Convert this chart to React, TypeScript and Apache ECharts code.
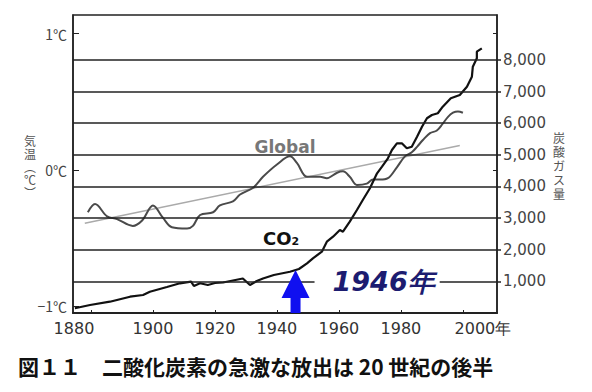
import React, { useEffect, useRef } from 'react';
import * as echarts from 'echarts';

// Global temperature anomaly curve (℃)
const GLOBAL_YEARS = [1879.0, 1881.3, 1885.2, 1888.4, 1893.5, 1896.5, 1900.0, 1903.2, 1906.1, 1911.0, 1912.9, 1915.2, 1919.4, 1921.6, 1925.8, 1928.1, 1932.3, 1935.5, 1940.0, 1944.2, 1946.5, 1949.7, 1953.9, 1956.1, 1959.4, 1961.3, 1963.5, 1965.8, 1969.0, 1971.0, 1973.2, 1975.8, 1978.7, 1981.3, 1983.5, 1985.2, 1987.1, 1989.4, 1991.6, 1993.5, 1995.2, 1996.8, 1998.4, 2000.0];
const GLOBAL_TEMPS = [-0.31, -0.25, -0.34, -0.36, -0.41, -0.37, -0.26, -0.35, -0.42, -0.43, -0.41, -0.33, -0.31, -0.26, -0.23, -0.18, -0.13, -0.05, 0.04, 0.10, 0.05, -0.05, -0.05, -0.06, -0.02, -0.01, -0.05, -0.11, -0.10, -0.07, -0.07, -0.06, 0.02, 0.10, 0.13, 0.17, 0.22, 0.27, 0.29, 0.34, 0.39, 0.42, 0.43, 0.42];

// Straight trend line of the temperature
const TREND_YEARS = [1878, 1999];
const TREND_TEMPS = [-0.39, 0.18];

// CO2 emission curve (炭酸ガス量)
const CO2_YEARS = [1874.8, 1879.7, 1886.1, 1892.6, 1896.8, 1899.0, 1904.5, 1908.7, 1912.3, 1913.2, 1915.2, 1917.7, 1920.0, 1922.6, 1925.8, 1929.0, 1931.3, 1933.5, 1935.5, 1939.0, 1944.2, 1947.1, 1949.7, 1951.6, 1954.5, 1956.1, 1958.1, 1960.3, 1961.3, 1963.5, 1965.8, 1967.7, 1970.0, 1972.3, 1973.9, 1975.8, 1977.1, 1978.7, 1980.3, 1981.9, 1983.5, 1985.2, 1986.8, 1988.4, 1990.0, 1991.9, 1993.5, 1996.1, 1999.0, 2001.3, 2002.9, 2003.2, 2004.5, 2004.5, 2006.1];
const CO2_AMOUNTS = [149, 253, 357, 515, 569, 673, 822, 939, 989, 853, 939, 885, 948, 964, 1027, 1090, 885, 1011, 1090, 1201, 1305, 1391, 1571, 1729, 1937, 2253, 2412, 2623, 2570, 2886, 3255, 3571, 3941, 4415, 4624, 4889, 5152, 5363, 5363, 5205, 5256, 5572, 5888, 6154, 6258, 6312, 6520, 6786, 6890, 7152, 7468, 7784, 8050, 8259, 8366];

const YEAR_TICKS = [1880, 1900, 1920, 1940, 1960, 1980, 2000];
const TEMP_TICKS = [-1, 0, 1];
const CO2_TICKS = [1000, 2000, 3000, 4000, 5000, 6000, 7000, 8000];
const ARROW_YEAR = 1946;
const ARROW_LABEL = '1946年';
const TITLE = '図１１　二酸化炭素の急激な放出は 20 世紀の後半';
const LEFT_NAME = ['気', '温', '︵', '℃', '︶'];
const RIGHT_NAME = ['炭', '酸', 'ガ', 'ス', '量'];

const X_MIN = 1874.2;
const X_MAX = 2011;
const T_MIN = -1.049;
const T_MAX = 1.137;
const C_MAX = 9418;

export default function App() {
  const ref = useRef<HTMLDivElement>(null);
  useEffect(() => {
    if (!ref.current) return;
    const chart = echarts.init(ref.current, null, { renderer: 'svg' });
    const numFont = 'DejaVu Sans';
    const option: any = {
      animation: false,
      backgroundColor: '#ffffff',
      grid: {
        left: 73, right: 95, top: 15, bottom: 79,
        show: true, borderColor: '#222', borderWidth: 1.5,
        containLabel: false, outerBoundsMode: 'none',
      },
      xAxis: {
        type: 'value', min: X_MIN, max: X_MAX,
        axisLine: { show: true, onZero: false, lineStyle: { color: '#222', width: 2 } },
        axisTick: { show: true, inside: true, length: 3, customValues: YEAR_TICKS, lineStyle: { color: '#222' } },
        splitLine: { show: false },
        axisLabel: {
          customValues: YEAR_TICKS, margin: 7,
          color: '#333', fontFamily: numFont, fontSize: 16,
          formatter: (v: number) => v === 1880 ? '{l|1880}' : v === 2000 ? '{r|2000年}' : String(v),
          rich: {
            l: { padding: [0, 34, 0, 0], color: '#333', fontFamily: numFont, fontSize: 16 },
            r: { padding: [0, 0, 0, 40], color: '#333', fontFamily: numFont, fontSize: 16 },
          },
        },
      },
      yAxis: [
        {
          type: 'value', min: T_MIN, max: T_MAX, position: 'left',
          axisLine: { show: true, onZero: false, lineStyle: { color: '#222', width: 1.5 } },
          axisTick: { show: true, inside: true, length: 6, customValues: TEMP_TICKS, lineStyle: { color: '#222' } },
          splitLine: { show: false },
          axisLabel: {
            customValues: TEMP_TICKS, margin: 6, color: '#444',
            fontFamily: 'Noto Sans CJK JP', fontSize: 14,
            formatter: (v: number) => (v < 0 ? '−' : '') + Math.abs(v) + '℃',
          },
        },
        {
          type: 'value', min: 0, max: C_MAX, position: 'right',
          axisLine: { show: true, onZero: false, lineStyle: { color: '#222', width: 1.5 } },
          axisTick: { show: true, inside: false, length: 4, customValues: CO2_TICKS, lineStyle: { color: '#222', width: 1.5 } },
          splitLine: { show: false },
          axisLabel: {
            customValues: CO2_TICKS, margin: 6, color: '#444',
            fontFamily: numFont, fontSize: 15,
            formatter: (v: number) => v.toLocaleString('en-US'),
          },
        },
        {
          type: 'value', min: T_MIN, max: T_MAX, position: 'right',
          axisLine: { show: false, onZero: false },
          axisTick: { show: true, inside: true, length: 4, customValues: [0, 1], lineStyle: { color: '#222' } },
          axisLabel: { show: false },
          splitLine: { show: false },
        },
      ],
      series: [
        {
          name: 'grid', type: 'line', yAxisIndex: 1, data: [], z: 1,
          markLine: {
            silent: true, symbol: ['none', 'none'], label: { show: false },
            lineStyle: { color: '#222', width: 1.5, type: 'solid' },
            data: CO2_TICKS.map((v) => ({ yAxis: v })),
          },
        },
        {
          name: 'trend', type: 'line', yAxisIndex: 0, z: 2,
          data: TREND_YEARS.map((y, i) => [y, TREND_TEMPS[i]]),
          showSymbol: false, lineStyle: { color: '#aaa', width: 1.5 },
        },
        {
          name: 'Global', type: 'line', yAxisIndex: 0, z: 3,
          data: GLOBAL_YEARS.map((y, i) => [y, GLOBAL_TEMPS[i]]),
          showSymbol: false, smooth: 0.35, lineStyle: { color: '#4a4a4a', width: 2 },
        },
        {
          name: 'CO2', type: 'line', yAxisIndex: 1, z: 4,
          data: CO2_YEARS.map((y, i) => [y, CO2_AMOUNTS[i]]),
          showSymbol: false, lineStyle: { color: '#111', width: 2.2 },
        },
      ],
    };
    chart.setOption(option);

    const ax = chart.convertToPixel({ xAxisIndex: 0 }, ARROW_YEAR) as number;
    const base = chart.convertToPixel({ yAxisIndex: 1 }, 0) as number;
    const lineY = chart.convertToPixel({ yAxisIndex: 1 }, 1000) as number;

    chart.setOption({
      graphic: [
        {
          type: 'text', left: 18, top: 355, z: 10,
          style: { text: TITLE, fill: '#111', font: 'bold 21px "Noto Sans CJK JP"' },
        },
        {
          type: 'text', x: 30, y: 166, z: 10,
          style: {
            text: LEFT_NAME.join('\n'), align: 'center', verticalAlign: 'middle',
            fill: '#555', fontSize: 12, lineHeight: 13, fontFamily: 'Noto Sans CJK JP',
          },
        },
        {
          type: 'text', x: 559, y: 165, z: 10,
          style: {
            text: RIGHT_NAME.join('\n'), align: 'center', verticalAlign: 'middle',
            fill: '#555', fontSize: 12, lineHeight: 14, fontFamily: 'Noto Sans CJK JP',
          },
        },
        {
          type: 'text', x: 285, y: 147, z: 10,
          style: { text: 'Global', align: 'center', verticalAlign: 'middle', fill: '#777', font: 'bold 17px "DejaVu Sans"' },
        },
        {
          type: 'text', x: 263, y: 238, z: 10,
          style: {
            text: '{a|CO}{b|2}', verticalAlign: 'middle',
            rich: {
              a: { fontSize: 18, fontWeight: 'bold', fontFamily: 'DejaVu Sans', fill: '#111' },
              b: { fontSize: 11, fontWeight: 'bold', fontFamily: 'DejaVu Sans', fill: '#111', padding: [7, 0, 0, 0] },
            },
          },
        },
        {
          type: 'polygon', z: 11,
          shape: {
            points: [
              [ax, base - 43], [ax + 14, base - 15], [ax + 5, base - 15], [ax + 5, base],
              [ax - 5, base], [ax - 5, base - 15], [ax - 14, base - 15],
            ],
          },
          style: { fill: '#1010f0' },
        },
        {
          type: 'text', x: ax + 19, y: lineY, z: 10,
          style: {
            text: ARROW_LABEL, verticalAlign: 'middle', align: 'left',
            fill: '#1c1c70', font: 'italic bold 27px "DejaVu Sans"',
            backgroundColor: '#fff', padding: [1, 5, 1, 18],
          },
        },
      ],
    });
    return () => chart.dispose();
  }, []);
  return <div ref={ref} style={{ position: 'fixed', left: 0, top: 0, width: 592, height: 392 }} />;
}
